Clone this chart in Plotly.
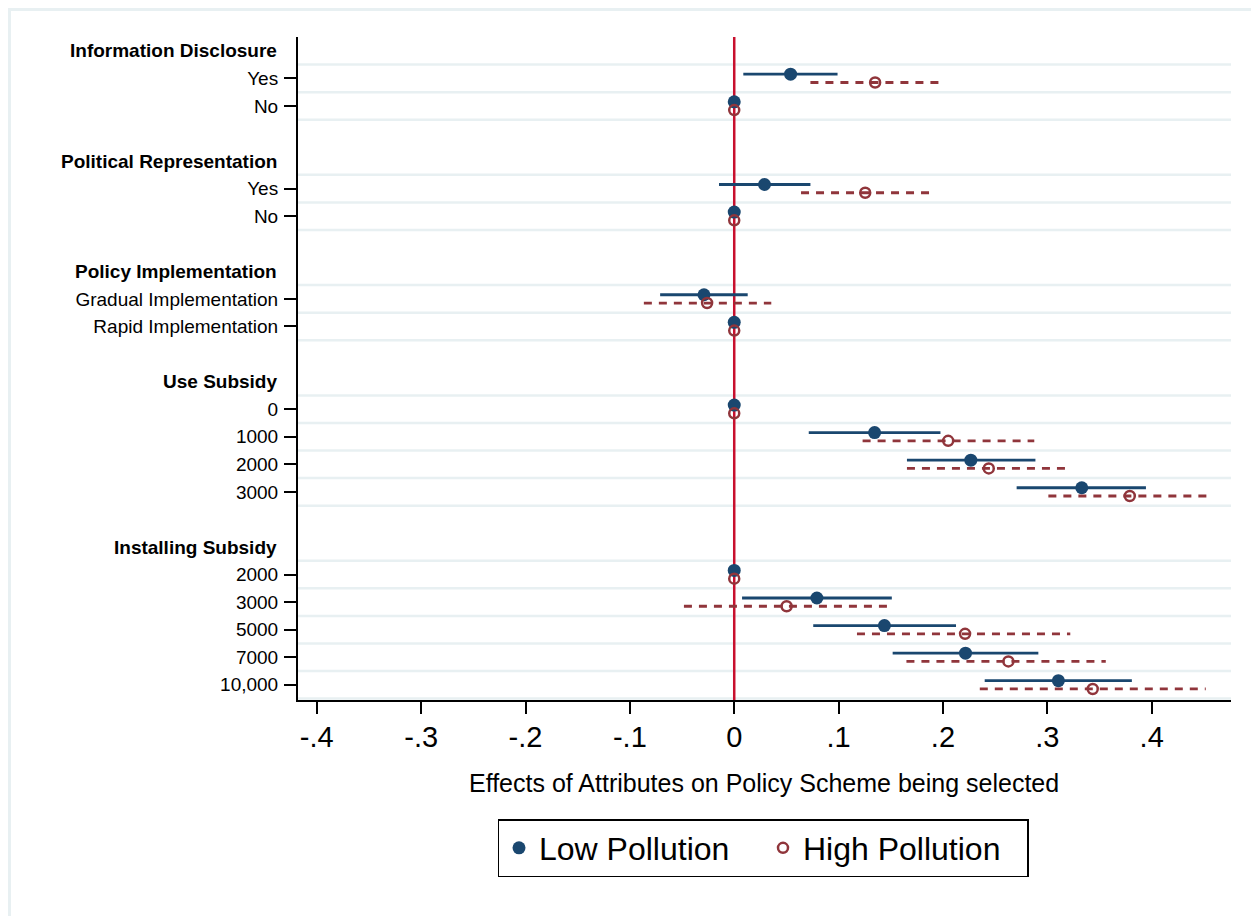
import plotly.graph_objects as go

# ---------------- data ----------------
groups = ["Information Disclosure", "Political Representation", "Policy Implementation",
          "Use Subsidy", "Installing Subsidy"]
levels = [
    ["Yes", "No"],
    ["Yes", "No"],
    ["Gradual Implementation", "Rapid Implementation"],
    ["0", "1000", "2000", "3000"],
    ["2000", "3000", "5000", "7000", "10,000"],
]
low_est = [0.054, 0, 0.029, 0, -0.029, 0, 0, 0.1345, 0.2267, 0.333, 0, 0.0792, 0.1439, 0.2216, 0.3106]
low_lo = [0.0087, 0, -0.0146, 0, -0.071, 0, 0, 0.0714, 0.1655, 0.2706, 0, 0.0075, 0.0757, 0.1518, 0.240]
low_hi = [0.099, 0, 0.073, 0, 0.0129, 0, 0, 0.1976, 0.2886, 0.3945, 0, 0.151, 0.2125, 0.2914, 0.381]
high_est = [0.135, 0, 0.1255, 0, -0.026, 0, 0, 0.205, 0.2439, 0.379, 0, 0.0502, 0.2212, 0.2627, 0.3435]
high_lo = [0.073, 0, 0.064, 0, -0.0866, 0, 0, 0.123, 0.1655, 0.301, 0, -0.0482, 0.1176, 0.165, 0.2353]
high_hi = [0.198, 0, 0.187, 0, 0.0355, 0, 0, 0.2875, 0.3169, 0.453, 0, 0.1486, 0.322, 0.356, 0.4518]
x_ticks = [-0.4, -0.3, -0.2, -0.1, 0, 0.1, 0.2, 0.3, 0.4]
x_ticklabels = ["-.4", "-.3", "-.2", "-.1", "0", ".1", ".2", ".3", ".4"]
x_title = "Effects of Attributes on Policy Scheme being selected"
series_names = ["Low Pollution", "High Pollution"]

# ---------------- layout of rows ----------------
header_pos, level_pos, level_txt, grid_pos = [], [], [], []
row = 0
for g, lv in zip(groups, levels):
    header_pos.append(row)
    grid_pos.append(row + 0.5)
    for name in lv:
        row += 1
        level_pos.append(row)
        level_txt.append(name)
        grid_pos.append(row + 0.5)
    row += 2
last_row = level_pos[-1]

OFF = 0.15
NAVY = "#1a476f"
MAROON = "#90353b"
RED = "#c8102e"
GRID = "#e8f0f2"
FONT = "Arial, Liberation Sans, Helvetica, sans-serif"

def segs(lo, hi, pos):
    xs, ys = [], []
    for a, b, p in zip(lo, hi, pos):
        xs += [a, b, None]
        ys += [p, p, None]
    return xs, ys

low_y = [p - OFF for p in level_pos]
high_y = [p + OFF for p in level_pos]

fig = go.Figure()
xs, ys = segs(low_lo, low_hi, low_y)
fig.add_trace(go.Scatter(x=xs, y=ys, mode="lines", line=dict(color=NAVY, width=2.8),
                         showlegend=False, hoverinfo="skip"))
xs, ys = segs(high_lo, high_hi, high_y)
fig.add_trace(go.Scatter(x=xs, y=ys, mode="lines", line=dict(color=MAROON, width=2.8, dash="8px,7px"),
                         showlegend=False, hoverinfo="skip"))
fig.add_trace(go.Scatter(x=low_est, y=low_y, mode="markers", name=series_names[0],
                         marker=dict(symbol="circle", size=13, color=NAVY)))
fig.add_trace(go.Scatter(x=high_est, y=high_y, mode="markers", name=series_names[1],
                         marker=dict(symbol="circle-open", size=10, color=MAROON,
                                     line=dict(width=2.5, color=MAROON))))

# page geometry (the page body adds an 8px offset)
OX, OY = 8, 8
W, H = 1251, 908
L, R, T, B = 290, 28, 29, 216
pw, ph = W - L - R, H - T - B
def px_x(p):  # page pixel -> paper x
    return (p - OX - L) / pw
def px_y(p):  # page pixel -> paper y
    return (H - B - (p - OY)) / ph

shapes = []
for gp in grid_pos:
    shapes.append(dict(type="line", xref="paper", x0=0, x1=1, yref="y", y0=gp, y1=gp,
                       line=dict(color=GRID, width=2.5), layer="between"))
shapes.append(dict(type="line", xref="x", x0=0, x1=0, yref="paper", y0=0, y1=1,
                   line=dict(color=RED, width=2.5), layer="between"))
# outer graph-region border (left and top edges visible)
shapes.append(dict(type="rect", xref="paper", yref="paper",
                   x0=px_x(9.5), x1=px_x(1300), y0=px_y(960), y1=px_y(9.5),
                   line=dict(color=GRID, width=3), layer="below"))

annotations = []
for g, hp in zip(groups, header_pos):
    annotations.append(dict(text="<b>%s</b>" % g, xref="paper", x=0, xanchor="right", xshift=-19,
                            yref="y", y=hp, yanchor="middle", showarrow=False,
                            font=dict(family=FONT, size=19, color="black")))
annotations.append(dict(text=x_title, xref="paper", x=px_x(764), xanchor="center",
                        yref="paper", y=px_y(783), yanchor="middle", showarrow=False,
                        font=dict(family=FONT, size=25, color="black")))

fig.update_layout(
    width=W, height=H,
    margin=dict(l=L, r=R, t=T, b=B, autoexpand=False),
    paper_bgcolor="white", plot_bgcolor="white",
    font=dict(family=FONT, color="black"),
    shapes=shapes, annotations=annotations,
    legend=dict(orientation="h", x=px_x(763), xanchor="center", y=px_y(848), yanchor="middle",
                bordercolor="black", borderwidth=1.5, font=dict(family=FONT, size=32),
                bgcolor="white", itemsizing="trace", entrywidth=219),
    xaxis=dict(range=[-0.418, 0.476], tickmode="array", tickvals=x_ticks, ticktext=x_ticklabels,
               showgrid=False, zeroline=False, showline=True, linecolor="black", linewidth=2,
               ticks="outside", ticklen=12, tickwidth=1.8, tickcolor="black",
               tickfont=dict(family=FONT, size=29), ticklabelstandoff=-2),
    yaxis=dict(range=[last_row + 0.55, -0.5], tickmode="array", tickvals=level_pos, ticktext=level_txt,
               showgrid=False, zeroline=False, showline=True, linecolor="black", linewidth=2,
               ticks="outside", ticklen=12, tickwidth=1.8, tickcolor="black",
               tickfont=dict(family=FONT, size=19), ticklabelstandoff=2),
)

fig.write_html("out.html")
